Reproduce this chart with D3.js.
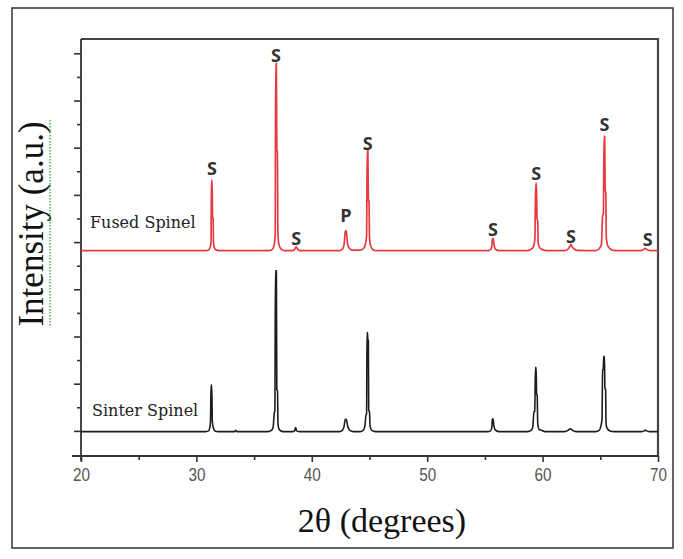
<!DOCTYPE html>
<html>
<head>
<meta charset="utf-8">
<script src="https://cdn.jsdelivr.net/npm/d3@7"></script>
<style>
  html, body { margin: 0; padding: 0; background: #fff; }
  svg { display: block; }
</style>
</head>
<body>
<svg id="chart" width="683" height="559"></svg>
<script>
// ---------- data ----------
const xMajorTicks = [20, 30, 40, 50, 60, 70];
const xMinorTicks = [25, 35, 45, 55, 65];
const yMajorTicks = [1000, 2000, 3000, 4000, 5000, 6000, 7000, 8000, 9000];
const yMinorTicks = [1500, 2500, 3500, 4500, 5500, 6500, 7500, 8500];

const seriesNames = ["Fused Spinel", "Sinter Spinel"];

// Fused spinel profile: [2θ, intensity]
const fusedProfile = [
  [20, 4820], [30.8, 4820], [31.1, 4840], [31.2, 4900], [31.27, 5000], [31.3, 6316], [31.36, 6316],
  [31.4, 5540], [31.45, 5500], [31.48, 5000], [31.55, 4890], [31.7, 4835], [32.0, 4820],
  [36.3, 4820], [36.6, 4850], [36.75, 4950], [36.83, 5150], [36.87, 8788], [36.93, 8788],
  [36.97, 6950], [37.02, 6900], [37.06, 5200], [37.15, 4950], [37.35, 4850], [37.6, 4820],
  [38.35, 4820], [38.55, 4860], [38.65, 4905], [38.75, 4860], [38.95, 4820],
  [42.4, 4820], [42.65, 4850], [42.8, 4950], [42.88, 5180], [42.95, 5242], [43.02, 5180],
  [43.1, 4960], [43.25, 4870], [43.5, 4830],
  [44.2, 4830], [44.5, 4870], [44.65, 4960], [44.75, 5150], [44.8, 6951], [44.86, 6951],
  [44.9, 5900], [44.96, 5860], [45.0, 5100], [45.1, 4920], [45.3, 4840], [45.6, 4820],
  [55.3, 4820], [55.5, 4840], [55.6, 4900], [55.65, 5074], [55.72, 5074], [55.78, 4960],
  [55.85, 4880], [56.0, 4835], [56.3, 4820],
  [58.6, 4820], [59.0, 4850], [59.2, 4900], [59.33, 5050], [59.4, 6239], [59.47, 6239],
  [59.52, 5490], [59.58, 5450], [59.62, 4980], [59.75, 4880], [60.0, 4840], [60.4, 4820],
  [61.9, 4820], [62.2, 4850], [62.35, 4900], [62.45, 4951], [62.55, 4905], [62.7, 4860], [63.0, 4825],
  [64.6, 4820], [64.9, 4860], [65.1, 4950], [65.2, 5560], [65.27, 5600], [65.32, 7242], [65.38, 7242],
  [65.42, 6100], [65.48, 6050], [65.52, 5100], [65.65, 4920], [65.9, 4850], [66.3, 4820],
  [68.5, 4820], [68.75, 4840], [68.9, 4870], [69.05, 4840], [69.3, 4820], [70, 4820]
];

// Sinter spinel profile: [2θ, intensity]
const sinterProfile = [
  [20, 985], [30.8, 985], [31.05, 1000], [31.15, 1060], [31.22, 1195], [31.27, 1972], [31.33, 1972],
  [31.38, 1200], [31.45, 1080], [31.6, 1000], [31.9, 985],
  [33.3, 985], [33.4, 1010], [33.5, 985],
  [36.2, 985], [36.5, 1010], [36.65, 1080], [36.75, 1380], [36.8, 1420], [36.85, 4394], [36.93, 4394],
  [36.97, 1870], [37.03, 1850], [37.07, 1150], [37.2, 1020], [37.5, 985],
  [38.35, 985], [38.5, 1000], [38.6, 1070], [38.68, 1000], [38.9, 985],
  [42.4, 985], [42.65, 1010], [42.8, 1100], [42.9, 1245], [43.0, 1240], [43.1, 1110], [43.3, 1010], [43.6, 985],
  [44.2, 985], [44.45, 1010], [44.6, 1100], [44.7, 1340], [44.75, 1350], [44.78, 3081], [44.83, 3081],
  [44.85, 2924], [44.9, 2924], [44.93, 1440], [45.0, 1400], [45.05, 1100], [45.2, 1010], [45.5, 985],
  [55.3, 985], [55.5, 1000], [55.6, 1080], [55.65, 1256], [55.72, 1250], [55.78, 1100], [55.9, 1020], [56.2, 985],
  [58.7, 985], [59.0, 1010], [59.15, 1080], [59.25, 1400], [59.32, 1420], [59.38, 2345], [59.44, 2345],
  [59.48, 1780], [59.53, 1760], [59.58, 1150], [59.7, 1030], [59.9, 1015], [60.2, 985],
  [61.9, 985], [62.2, 1010], [62.4, 1045], [62.6, 1010], [62.9, 985],
  [64.6, 985], [64.9, 1010], [65.05, 1100], [65.15, 1250], [65.2, 2294], [65.25, 2300], [65.3, 2581],
  [65.36, 2581], [65.4, 1900], [65.46, 1880], [65.5, 1150], [65.6, 1050], [65.85, 1000], [66.2, 985],
  [68.6, 985], [68.8, 1000], [68.9, 1020], [69.0, 1000], [69.25, 985], [70, 985]
];

// Phase annotations (S = spinel, P = periclase) above fused peaks
const peakLabelText = ["S", "S", "S", "P", "S", "S", "S", "S", "S", "S"];
const peakLabelTheta = [31.35, 36.9, 38.65, 42.95, 44.85, 55.7, 59.45, 62.45, 65.35, 69.1];
const peakLabelIntensity = [6422, 8822, 4939, 5426, 6951, 5129, 6316, 4987, 7354, 4917];

// ---------- layout ----------
const svg = d3.select("#chart");
const pLeft = 81, pRight = 658, pTop = 39, pBottom = 456;

const x = d3.scaleLinear().domain([20, 70]).range([pLeft, pRight]);
const y = d3.scaleLinear().domain([468, 9303]).range([pBottom, pTop]);

// outer frame
svg.append("rect")
  .attr("x", 12).attr("y", 8).attr("width", 661).attr("height", 540)
  .attr("fill", "none").attr("stroke", "#333").attr("stroke-width", 1.5);

// top and right frame lines of plot
svg.append("path")
  .attr("d", `M${pLeft},${pTop}H${pRight}V${pBottom}`)
  .attr("fill", "none").attr("stroke", "#444").attr("stroke-width", 2.2);

// x axis
const gx = svg.append("g").attr("transform", `translate(0,${pBottom})`);
gx.call(d3.axisBottom(x).tickValues(xMajorTicks).tickSize(6).tickPadding(6).tickFormat(d3.format("d")));
const gxm = svg.append("g").attr("transform", `translate(0,${pBottom})`);
gxm.call(d3.axisBottom(x).tickValues(xMinorTicks).tickSize(4).tickFormat(""));
gxm.select(".domain").remove();

// y axis
const gy = svg.append("g").attr("transform", `translate(${pLeft},0)`);
gy.call(d3.axisLeft(y).tickValues(yMajorTicks).tickSize(7).tickFormat(""));
const gym = svg.append("g").attr("transform", `translate(${pLeft},0)`);
gym.call(d3.axisLeft(y).tickValues(yMinorTicks).tickSize(4).tickFormat(""));
gym.select(".domain").remove();

[gx, gxm, gy, gym].forEach(g => {
  g.selectAll("path.domain").attr("stroke", "#333").attr("stroke-width", 1.8);
  g.selectAll(".tick line").attr("stroke", "#333").attr("stroke-width", 1.6);
});
gx.select("path.domain").attr("d", `M${pLeft - 9},0H${pRight}`);
gy.select("path.domain").attr("d", `M0,${pTop}V${pBottom + 5}`);
gx.selectAll(".tick text")
  .attr("font-family", "'Liberation Sans', Arial, sans-serif")
  .attr("font-size", 18).attr("fill", "#555")
  .attr("transform", "scale(0.85,1)");

// profiles
const line = d3.line().x(d => x(d[0])).y(d => y(d[1])).curve(d3.curveMonotoneX);

svg.append("path").datum(sinterProfile)
  .attr("d", line).attr("fill", "none")
  .attr("stroke", "#1c1c1c").attr("stroke-width", 1.6).attr("stroke-linejoin", "round");

svg.append("path").datum(fusedProfile)
  .attr("d", line).attr("fill", "none")
  .attr("stroke", "#e63a40").attr("stroke-width", 1.7).attr("stroke-linejoin", "round");

// series labels
svg.append("text").text(seriesNames[0])
  .attr("x", 90).attr("y", 228)
  .attr("font-family", "'DejaVu Serif', serif").attr("font-size", 16).attr("fill", "#222");
svg.append("text").text(seriesNames[1])
  .attr("x", 92).attr("y", 416)
  .attr("font-family", "'DejaVu Serif', serif").attr("font-size", 16).attr("fill", "#222");

// peak labels
svg.append("g").selectAll("text")
  .data(peakLabelText)
  .join("text")
  .text(d => d)
  .attr("x", (d, i) => x(peakLabelTheta[i]))
  .attr("y", (d, i) => y(peakLabelIntensity[i]))
  .attr("text-anchor", "middle")
  .attr("font-family", "'Open Sans', sans-serif").attr("font-weight", 700)
  .attr("font-size", 18).attr("fill", "#333");

// axis titles
svg.append("text").text("Intensity (a.u.)")
  .attr("transform", "translate(43,224) rotate(-90)")
  .attr("text-anchor", "middle")
  .attr("font-family", "'Liberation Serif', 'Times New Roman', serif")
  .attr("font-size", 35).attr("fill", "#111");
svg.append("line")
  .attr("x1", 50).attr("x2", 50).attr("y1", 120).attr("y2", 327)
  .attr("stroke", "#4aa84a").attr("stroke-width", 1.5).attr("stroke-dasharray", "1.5,1.5");

svg.append("text").text("2θ (degrees)")
  .attr("x", 382).attr("y", 532)
  .attr("text-anchor", "middle")
  .attr("font-family", "'Liberation Serif', 'Times New Roman', serif")
  .attr("font-size", 34).attr("fill", "#111");
</script>
</body>
</html>
